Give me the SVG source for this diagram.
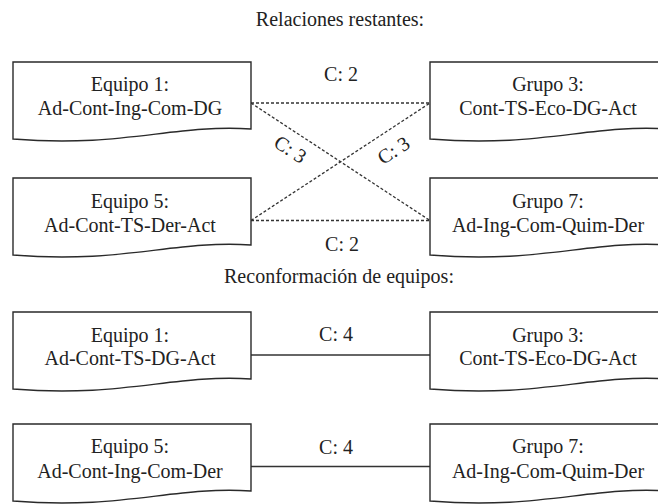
<svg xmlns="http://www.w3.org/2000/svg" xmlns:xlink="http://www.w3.org/1999/xlink" width="658" height="504" viewBox="0 0 658 504">
<style>
.doc{fill:#fff;stroke:#2a2a2a;stroke-width:1.4}
.t{font-family:'Liberation Serif','Times New Roman','DejaVu Serif',serif;font-size:20px;fill:#222;text-anchor:middle}
.dash{stroke:#333;stroke-width:1.3;stroke-dasharray:3,2;fill:none}
.solid{stroke:#333;stroke-width:1.4;fill:none}
</style>
<defs>
<path id="docshape" class="doc" d="M0,0 H238 V67 C160,62 110,86 0,77 Z"/>
</defs>
<rect width="658" height="504" fill="#fff"/>
<text class="t" x="340" y="26">Relaciones restantes:</text>
<text class="t" x="339" y="283">Reconformación de equipos:</text>
<g id="connectors">
<line class="dash" x1="251" y1="103" x2="430" y2="103"/>
<line class="dash" x1="251" y1="220.5" x2="430" y2="220.5"/>
<line class="dash" x1="251" y1="103" x2="430" y2="220.5"/>
<line class="dash" x1="251" y1="220.5" x2="430" y2="103"/>
<text class="t" x="341" y="81">C: 2</text>
<text class="t" x="342" y="251">C: 2</text>
<text class="t" transform="translate(290,150) rotate(33)" x="0" y="6">C: 3</text>
<text class="t" transform="translate(394,151) rotate(-33)" x="0" y="6">C: 3</text>
<line class="solid" x1="251" y1="355" x2="430" y2="355"/>
<line class="solid" x1="251" y1="466.5" x2="430" y2="466.5"/>
<text class="t" x="336" y="341">C: 4</text>
<text class="t" x="336" y="454">C: 4</text>
</g>
<g id="n-equipo1">
<use xlink:href="#docshape" x="13" y="62"/>
<text class="t" x="130" y="91">Equipo 1:</text>
<text class="t" x="130" y="115">Ad-Cont-Ing-Com-DG</text>
</g>
<g id="n-grupo3">
<use xlink:href="#docshape" x="430" y="62"/>
<text class="t" x="548" y="91">Grupo 3:</text>
<text class="t" x="548" y="115">Cont-TS-Eco-DG-Act</text>
</g>
<g id="n-equipo5">
<use xlink:href="#docshape" x="13" y="178"/>
<text class="t" x="130" y="208">Equipo 5:</text>
<text class="t" x="130" y="232">Ad-Cont-TS-Der-Act</text>
</g>
<g id="n-grupo7">
<use xlink:href="#docshape" x="430" y="178"/>
<text class="t" x="548" y="208">Grupo 7:</text>
<text class="t" x="548" y="232">Ad-Ing-Com-Quim-Der</text>
</g>
<g id="r-equipo1">
<use xlink:href="#docshape" x="13" y="312"/>
<text class="t" x="130" y="342">Equipo 1:</text>
<text class="t" x="130" y="365">Ad-Cont-TS-DG-Act</text>
</g>
<g id="r-grupo3">
<use xlink:href="#docshape" x="430" y="312"/>
<text class="t" x="548" y="342">Grupo 3:</text>
<text class="t" x="548" y="365">Cont-TS-Eco-DG-Act</text>
</g>
<g id="r-equipo5">
<use xlink:href="#docshape" x="13" y="424"/>
<text class="t" x="130" y="453">Equipo 5:</text>
<text class="t" x="130" y="478">Ad-Cont-Ing-Com-Der</text>
</g>
<g id="r-grupo7">
<use xlink:href="#docshape" x="430" y="424"/>
<text class="t" x="548" y="453">Grupo 7:</text>
<text class="t" x="548" y="478">Ad-Ing-Com-Quim-Der</text>
</g>
</svg>
